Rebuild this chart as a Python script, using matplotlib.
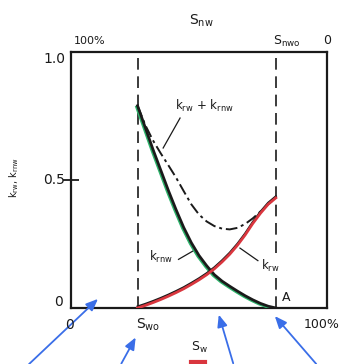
import matplotlib
matplotlib.use("Agg")
import matplotlib.pyplot as plt
from matplotlib.patches import FancyArrowPatch
from matplotlib.lines import Line2D
import numpy as np

# Water saturation (fraction of pore volume) and relative permeabilities
sw = [0.26, 0.29, 0.32, 0.35, 0.38, 0.41, 0.44, 0.47, 0.50, 0.53,
      0.56, 0.59, 0.62, 0.65, 0.68, 0.71, 0.74, 0.77, 0.80]
krnw = [0.79, 0.705, 0.62, 0.54, 0.46, 0.385, 0.315, 0.255, 0.205, 0.165,
        0.13, 0.105, 0.085, 0.066, 0.048, 0.032, 0.018, 0.007, 0.0]
krw = [0.0, 0.01, 0.021, 0.033, 0.046, 0.06, 0.075, 0.092, 0.11, 0.13,
       0.153, 0.18, 0.21, 0.245, 0.285, 0.33, 0.37, 0.405, 0.43]
krsum = [0.79, 0.715, 0.655, 0.605, 0.558, 0.51, 0.457, 0.405, 0.365, 0.338,
         0.32, 0.31, 0.307, 0.313, 0.328, 0.35, 0.377, 0.405, 0.43]
swo = 0.26
sw_at_snwo = 0.80
ytick_labels = ["0", "0.5", "1.0"]

plt.rcParams["mathtext.fontset"] = "dejavusans"
W, H = 345, 364
fig = plt.figure(figsize=(W / 100, H / 100), dpi=100)
fig.patch.set_facecolor("white")
ax = fig.add_axes([71 / W, 1 - 308 / H, 256 / W, 256 / H])

x = np.array(sw)
ink = "#1a1a1a"

# k_rnw: black curve with a thin green trace alongside
ax.plot(x - 0.006, np.array(krnw) - 0.004, color="#2db36b", lw=1.4, zorder=3)
ax.plot(x, krnw, color=ink, lw=2.0, zorder=4)
# k_rw: red curve with a dark edge
ax.plot(x, np.array(krw) + 0.006, color=ink, lw=1.5, zorder=3)
ax.plot(x, krw, color="#d9363e", lw=2.0, zorder=4)
# k_rw + k_rnw
ax.plot(x, krsum, color=ink, lw=1.4, dashes=(6, 2, 1.5, 2), zorder=3)

# end-point saturations
ax.axvline(swo, color=ink, lw=1.2, dashes=(7, 4), zorder=2)
ax.axvline(sw_at_snwo, color=ink, lw=1.2, dashes=(7, 4), zorder=2)

ax.set_xlim(0, 1)
ax.set_ylim(0, 1)
ax.set_xticks([])
ax.set_yticks([0.5])
ax.set_yticklabels([])
ax.tick_params(axis="y", direction="inout", length=12, width=1.3, colors=ink)
for s in ax.spines.values():
    s.set_linewidth(1.6)
    s.set_color(ink)


def ftext(px, py, s, **kw):
    fig.text(px / W, 1 - py / H, s, color=ink, **kw)


# left axis
ftext(65, 59, ytick_labels[2], ha="right", va="center", fontsize=10)
ftext(65, 180, ytick_labels[1], ha="right", va="center", fontsize=10)
ftext(63, 302, ytick_labels[0], ha="right", va="center", fontsize=10)
ftext(14, 178, r"k$_{\rm rw}$, k$_{\rm rnw}$", ha="center", va="center",
      fontsize=7, rotation=90)

# top axis (non-wetting saturation)
ftext(201, 21, r"S$_{\rm nw}$", ha="center", va="center", fontsize=10)
ftext(90, 41, "100%", ha="center", va="center", fontsize=8)
ftext(287, 41, r"S$_{\rm nwo}$", ha="center", va="center", fontsize=9)
ftext(327, 41, "0", ha="center", va="center", fontsize=9)

# bottom axis (wetting saturation)
ftext(70, 325, "0", ha="center", va="center", fontsize=10)
ftext(148, 325, r"S$_{\rm wo}$", ha="center", va="center", fontsize=10)
ftext(322, 324, "100%", ha="center", va="center", fontsize=9)
ftext(199, 347, r"S$_{\rm w}$", ha="center", va="center", fontsize=9)
fig.add_artist(Line2D([191 / W, 205 / W], [1 - 362 / H, 1 - 362 / H],
                      color="#d9363e", lw=3, transform=fig.transFigure))

# curve labels with leader lines
ax.text(0.52, 0.79, r"k$_{\rm rw}$ + k$_{\rm rnw}$", ha="center", va="center",
        fontsize=8.5, color=ink)
ax.plot([0.426, 0.36], [0.742, 0.625], color=ink, lw=0.9)
ax.text(0.35, 0.20, r"k$_{\rm rnw}$", ha="center", va="center", fontsize=8.5,
        color=ink)
ax.plot([0.42, 0.484], [0.19, 0.227], color=ink, lw=0.9)
ax.text(0.78, 0.165, r"k$_{\rm rw}$", ha="center", va="center", fontsize=8.5,
        color=ink, zorder=5,
        bbox=dict(boxstyle="square,pad=0.15", fc="white", ec="none"))
ax.plot([0.66, 0.73], [0.234, 0.185], color=ink, lw=0.9)
ax.text(0.825, 0.04, "A", ha="left", va="center", fontsize=9, color=ink)

# pointer arrows below the chart
blue = "#3a6ee8"
arrows = [((27, 366), (100, 297)), ((120, 366), (137, 335)),
          ((234, 366), (218, 312)), ((318, 366), (273, 314))]
for (x0, y0), (x1, y1) in arrows:
    fig.add_artist(FancyArrowPatch(
        (x0 / W, 1 - y0 / H), (x1 / W, 1 - y1 / H), transform=fig.transFigure,
        arrowstyle="-|>,head_length=0.6,head_width=0.25", mutation_scale=12,
        color=blue, lw=1.3))

fig.savefig("out.png", dpi=100, facecolor="white")
